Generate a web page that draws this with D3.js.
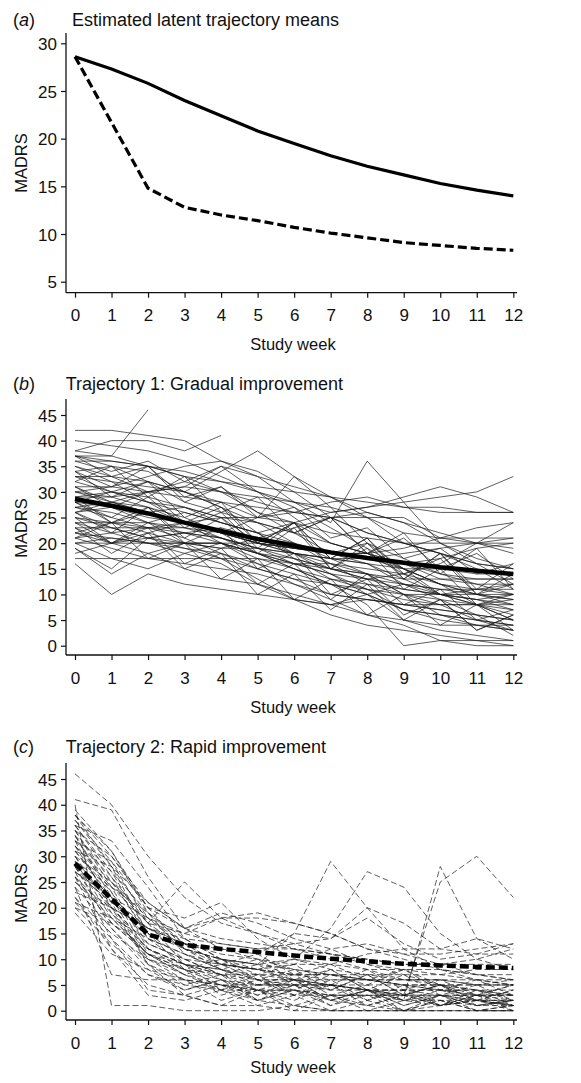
<!DOCTYPE html>
<html>
<head>
<meta charset="utf-8">
<script src="https://cdn.jsdelivr.net/npm/d3@7/dist/d3.min.js"></script>
<style>
  html, body { margin: 0; padding: 0; background: #fff; }
  svg { display: block; }
  .tick text { font-family: "Liberation Sans Narrow", "Arial Narrow", "Liberation Sans", sans-serif; font-size: 17px; fill: #111; }
  .ttl { font-family: "Liberation Sans", Arial, sans-serif; font-size: 18px; fill: #111; }
  .axlab { font-family: "Liberation Sans", Arial, sans-serif; font-size: 16.5px; fill: #111; }
</style>
</head>
<body>
<svg id="chart" width="581" height="1083"></svg>
<script>
// ---------------- DATA ----------------
const weeks = [0,1,2,3,4,5,6,7,8,9,10,11,12];
const xTicks = [0,1,2,3,4,5,6,7,8,9,10,11,12];
const yTicksA = [5,10,15,20,25,30];
const yTicksBC = [0,5,10,15,20,25,30,35,40,45];

// Estimated latent trajectory means (MADRS by week)
const meanGradual = [28.6,27.3,25.8,24.0,22.4,20.8,19.5,18.2,17.1,16.2,15.3,14.6,14.0];
const meanRapid   = [28.6,21.7,14.8,12.8,12.0,11.4,10.7,10.1,9.6,9.1,8.8,8.5,8.3];

const titles = ["Estimated latent trajectory means",
                "Trajectory 1: Gradual improvement",
                "Trajectory 2: Rapid improvement"];
const panelLetters = ["a","b","c"];

// Individual observed trajectories, trajectory 1 (weeks 0..12, null = missing)
const gradualSubjects = [
 [42,42,41,40,36,33,31,29,26,24,22,20,18],
 [37,37,46,null,null,null,null,null,null,null,null,null,null],
 [38,40,40,38,41,null,null,null,null,null,null,null,null],
 [37,36,35,33,30,28,26,25,22,20,18,16,15],
 [37,35,34,30,34,38,33,27,20,15,12,10,8],
 [36,34,36,32,30,26,24,20,18,14,10,8,6],
 [35,33,30,31,35,33,28,24,36,28,20,16,12],
 [34,35,32,28,26,24,22,18,16,12,10,9,7],
 [33,32,31,30,28,25,33,29,25,20,18,15,11],
 [33,30,28,27,25,20,18,16,14,10,8,5,3],
 [32,30,29,27,24,22,20,18,20,17,14,12,10],
 [31,31,30,29,28,27,26,25,25,25,21,21,21],
 [30,28,27,25,22,18,15,12,8,0,1,1,0],
 [30,29,30,31,30,29,28,26,27,29,31,29,26],
 [29,27,26,27,25,24,22,20,18,16,14,13,13],
 [29,24,27,20,23,15,18,10,13,6,9,3,6],
 [28,27,25,24,22,25,26,28,29,27,27,26,26],
 [28,24,22,20,20,18,17,15,14,13,13,12,12],
 [27,28,26,24,21,19,16,14,11,7,5,4,3],
 [27,25,23,21,18,15,13,10,9,8,8,8,8],
 [26,22,27,21,25,18,23,15,20,13,18,11,16],
 [26,27,24,20,17,13,9,8,9,8,7,6,5],
 [25,23,21,20,19,21,23,25,26,24,20,17,15],
 [25,20,23,16,19,12,16,9,14,8,11,5,7],
 [24,24,23,22,21,19,18,17,16,15,15,14,14],
 [24,20,24,22,20,17,15,12,10,5,3,2,1],
 [23,23,23,23,22,20,19,18,17,16,17,19,20],
 [23,18,22,15,18,10,14,7,12,5,9,3,6],
 [22,20,21,19,17,15,13,12,10,7,6,5,4],
 [22,24,26,24,22,20,19,18,18,19,21,23,24],
 [21,24,17,20,13,17,9,13,6,10,4,8,5],
 [21,22,23,24,25,25,24,22,21,20,20,20,19],
 [20,21,20,19,18,16,14,12,11,10,9,8,9],
 [20,17,15,18,20,18,15,13,11,9,8,8,7],
 [19,15,21,22,21,19,17,15,13,12,11,11,11],
 [19,14,18,20,20,16,12,10,9,8,7,6,5],
 [18,20,22,24,22,20,18,17,16,13,10,9,10],
 [17,17,17,17,17,17,16,15,14,12,11,10,10],
 [16,10,14,12,11,10,9,6,4,3,2,1,1],
 [23,20,18,15,13,12,10,8,6,5,4,4,3],
 [38,37,35,34,32,30,28,27,25,22,21,20,20],
 [37,33,35,29,31,25,27,21,23,17,19,14,16],
 [34,31,35,28,31,26,22,25,18,21,15,18,13],
 [32,35,29,33,26,29,22,25,18,22,14,19,11],
 [31,27,30,24,27,20,24,17,21,14,17,10,12],
 [35,32,28,24,20,18,16,16,15,14,12,11,10],
 [28,30,32,30,27,24,20,16,12,10,10,11,12],
 [26,28,30,32,35,30,25,20,18,15,10,8,5],
 [30,31,33,35,36,34,30,25,22,20,18,16,15],
 [33,33,32,30,27,22,18,14,10,7,6,5,4],
 [20,20,20,20,20,20,19,18,18,16,13,13,13],
 [27,26,24,26,24,22,17,13,12,11,10,10,9],
 [29,30,28,26,24,22,24,26,27,28,29,30,33],
 [25,24,24,23,21,18,16,14,13,14,16,20,24],
 [31,28,26,24,22,20,19,18,17,15,12,8,3],
 [36,36,35,33,32,31,30,29,28,27,26,26,26],
 [24,22,20,18,16,12,9,8,10,12,9,6,2],
 [22,21,20,20,19,19,18,17,17,18,19,20,21],
 [28,25,29,23,26,19,24,17,21,13,18,10,14],
 [26,23,21,22,23,21,18,15,13,11,10,9,8],
 [40,39,38,36,33,30,27,23,19,15,12,10,9],
 [34,29,32,25,28,20,24,15,19,11,15,8,10],
 [29,29,27,24,22,21,20,17,14,10,6,4,4],
 [21,19,17,16,15,14,12,9,6,4,1,0,0]
];

// Individual observed trajectories, trajectory 2 (weeks 0..12)
const rapidSubjects = [
 [46,40,30,22,17,15,12,10,8,6,5,4,3],
 [41,39,26,16,12,10,8,7,6,5,4,3,2],
 [40,1,1,0,0,0,1,0,0,0,0,0,0],
 [38,30,20,12,8,5,7,3,5,2,4,2,1],
 [37,28,15,10,7,4,6,8,4,3,5,2,2],
 [36,26,14,9,4,6,3,5,2,4,1,3,1],
 [35,24,12,8,3,5,6,2,4,1,3,2,4],
 [34,22,10,6,2,4,1,3,0,2,1,3,0],
 [33,20,9,5,7,2,4,1,3,0,2,0,1],
 [32,25,18,12,10,7,9,5,8,4,6,3,5],
 [31,22,16,13,9,11,7,9,6,8,4,6,3],
 [30,20,13,10,7,9,5,8,4,7,3,5,2],
 [29,18,11,8,10,6,8,4,7,3,5,2,4],
 [28,16,9,6,4,7,3,6,2,5,1,4,1],
 [27,14,7,4,6,2,5,1,4,0,3,1,2],
 [26,12,5,3,1,4,0,3,1,0,2,0,1],
 [24,7,6,6,5,5,5,5,5,5,5,5,5],
 [22,15,10,8,6,5,5,4,4,4,4,3,3],
 [21,18,14,11,9,8,7,6,6,5,5,5,6],
 [20,17,12,9,7,6,5,5,4,4,3,3,3],
 [19,11,8,6,5,4,4,3,3,3,2,2,2],
 [30,25,17,25,18,15,13,11,9,8,7,6,5],
 [38,31,20,18,21,14,10,8,7,6,6,5,5],
 [33,29,20,16,18,19,17,15,12,10,8,7,6],
 [36,27,15,12,10,9,15,29,20,12,8,6,5],
 [34,23,13,10,9,8,10,16,27,24,15,10,8],
 [30,19,12,9,8,7,6,5,4,3,25,30,22],
 [28,17,11,9,8,6,6,5,4,2,28,14,10],
 [27,21,16,14,13,12,13,14,20,17,12,14,12],
 [25,20,16,13,12,11,15,14,18,13,10,11,13],
 [32,24,17,15,18,18,17,15,12,11,11,12,13],
 [29,22,14,11,8,10,6,4,7,3,5,1,2],
 [35,25,15,8,5,3,6,2,4,1,3,0,0],
 [37,29,17,9,6,4,2,5,1,3,1,2,1],
 [26,19,10,7,9,6,4,7,5,8,5,3,5],
 [24,16,8,4,6,3,5,2,4,2,3,1,2],
 [22,12,3,2,4,1,3,0,2,0,1,2,1],
 [21,14,4,3,5,2,4,2,1,3,1,2,0],
 [31,23,11,8,7,7,7,7,6,6,6,5,5],
 [33,26,17,12,9,8,7,7,7,7,7,8,8],
 [28,20,12,9,7,5,5,5,4,4,4,4,4],
 [36,33,24,14,10,9,10,9,11,12,12,11,11],
 [39,31,19,13,9,8,9,12,13,11,9,7,6],
 [23,20,16,12,10,9,8,7,6,5,4,4,3],
 [27,22,18,15,13,12,12,11,10,9,9,10,12],
 [31,28,21,16,14,13,12,11,10,9,9,9,9],
 [20,13,7,5,4,4,3,3,3,3,3,3,3],
 [34,27,19,11,8,6,6,6,6,6,6,6,6],
 [32,21,9,3,1,1,0,0,0,0,0,0,0],
 [26,17,11,7,5,4,4,3,3,2,2,1,1],
 [35,30,21,16,19,17,14,12,9,7,5,4,2],
 [29,24,19,14,10,8,6,5,4,3,3,2,1],
 [38,28,18,13,11,10,9,9,8,8,8,7,7],
 [25,18,11,7,4,2,1,0,0,0,0,0,0]
];

// ---------------- LAYOUT ----------------
const svg = d3.select("#chart");
const x = d3.scaleLinear().domain([0,12]).range([75,513.3]);
const axisX0 = 66, axisX1 = 517;

const panels = [
  { yDomain:[5,30], yRange:[281.7,43.3], yTop:33, xAxisY:292.7, ticks:yTicksA,
    titleX:72, titleY:26, labY:163, xlabY:350 },
  { yDomain:[0,45], yRange:[645.7,415], yTop:399, xAxisY:655, ticks:yTicksBC,
    titleX:65.7, titleY:390, labY:528, xlabY:713 },
  { yDomain:[0,45], yRange:[1010.7,779], yTop:763, xAxisY:1020, ticks:yTicksBC,
    titleX:65.7, titleY:753, labY:893, xlabY:1073 }
];

function valuesLine(y) {
  return d3.line()
    .defined(d => d.v !== null)
    .x(d => x(d.w))
    .y(d => y(d.v));
}
function toPts(arr) {
  return weeks.map((w,i) => ({w:w, v:arr[i]})).filter(d => d.v !== null);
}

panels.forEach((p, pi) => {
  const g = svg.append("g");
  const y = d3.scaleLinear().domain(p.yDomain).range(p.yRange);
  const line = valuesLine(y);

  // titles
  const t = g.append("text").attr("class","ttl").attr("x",13).attr("y",p.titleY);
  t.append("tspan").text("(");
  t.append("tspan").attr("font-style","italic").text(panelLetters[pi]);
  t.append("tspan").text(")");
  g.append("text").attr("class","ttl").attr("x",p.titleX).attr("y",p.titleY).text(titles[pi]);

  // axes
  const ya = g.append("g").attr("transform",`translate(${axisX0},0)`)
    .call(d3.axisLeft(y).tickValues(p.ticks).tickSize(5).tickPadding(4).tickFormat(d3.format("d")));
  ya.select(".domain").remove();
  ya.selectAll(".tick line").attr("stroke","#111").attr("stroke-width",1.2);
  ya.selectAll(".tick text").attr("dy","0.36em");

  const xa = g.append("g").attr("transform",`translate(0,${p.xAxisY})`)
    .call(d3.axisBottom(x).tickValues(xTicks).tickSize(5).tickFormat(d3.format("d")));
  xa.select(".domain").remove();
  xa.selectAll(".tick line").attr("stroke","#111").attr("stroke-width",1.2);
  xa.selectAll(".tick text").attr("y",28.5).attr("dy",0);

  g.append("line").attr("x1",axisX0).attr("x2",axisX0).attr("y1",p.yTop).attr("y2",p.xAxisY)
    .attr("stroke","#111").attr("stroke-width",1.3);
  g.append("line").attr("x1",axisX0).attr("x2",axisX1).attr("y1",p.xAxisY).attr("y2",p.xAxisY)
    .attr("stroke","#111").attr("stroke-width",1.3);

  // axis labels
  g.append("text").attr("class","axlab").attr("text-anchor","middle")
    .attr("transform",`translate(26.5,${p.labY}) rotate(-90)`).text("MADRS");
  g.append("text").attr("class","axlab").attr("text-anchor","middle")
    .attr("x",293).attr("y",p.xlabY).text("Study week");

  if (pi === 0) {
    g.append("path").attr("d", line(toPts(meanGradual)))
      .attr("fill","none").attr("stroke","#000").attr("stroke-width",3.2);
    g.append("path").attr("d", line(toPts(meanRapid)))
      .attr("fill","none").attr("stroke","#000").attr("stroke-width",3.2)
      .attr("stroke-dasharray","9,4");
  } else if (pi === 1) {
    g.selectAll("path.subj").data(gradualSubjects).enter().append("path")
      .attr("class","subj").attr("d", d => line(toPts(d)))
      .attr("fill","none").attr("stroke","#1a1a1a").attr("stroke-width",0.7);
    g.append("path").attr("d", line(toPts(meanGradual)))
      .attr("fill","none").attr("stroke","#000").attr("stroke-width",4.5);
  } else {
    g.selectAll("path.subj").data(rapidSubjects).enter().append("path")
      .attr("class","subj").attr("d", d => line(toPts(d)))
      .attr("fill","none").attr("stroke","#1a1a1a").attr("stroke-width",0.7)
      .attr("stroke-dasharray","6,3");
    g.append("path").attr("d", line(toPts(meanRapid)))
      .attr("fill","none").attr("stroke","#000").attr("stroke-width",4.5)
      .attr("stroke-dasharray","9,4");
  }
});
</script>
</body>
</html>
